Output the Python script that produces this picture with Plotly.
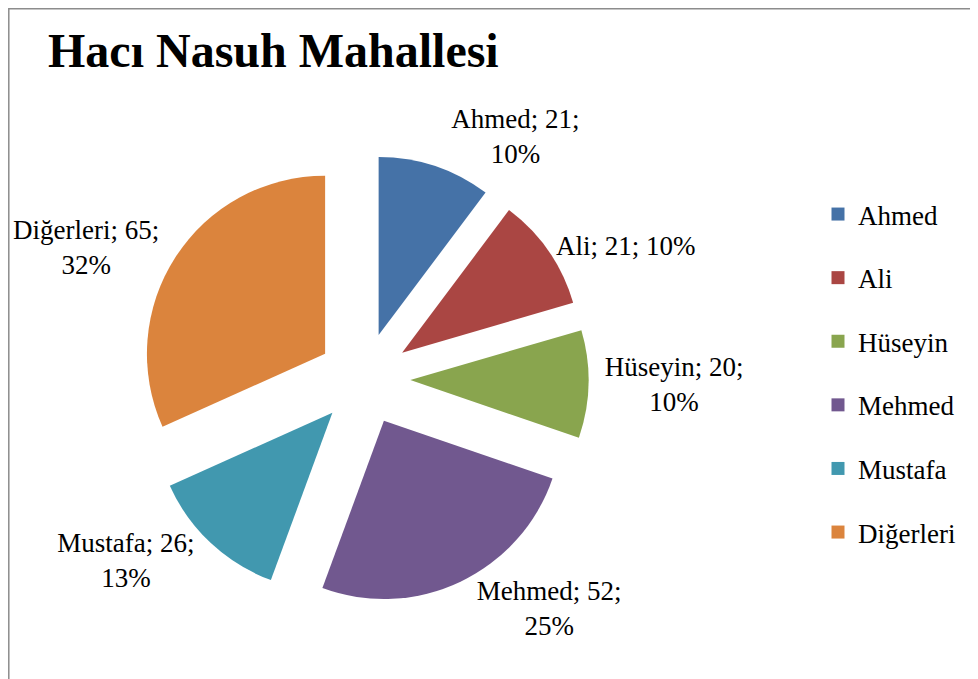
import plotly.graph_objects as go

title = "Hacı Nasuh Mahallesi"
names = ["Ahmed", "Ali", "Hüseyin", "Mehmed", "Mustafa", "Diğerleri"]
values = [21, 21, 20, 52, 26, 65]
colors = ["#4572A7", "#AA4643", "#89A54E", "#71588F", "#4198AF", "#DB843D"]
templates = [
    "%{label}; %{value};<br>%{percent:.0%}",
    "%{label}; %{value}; %{percent:.0%}",
    "%{label}; %{value};<br>%{percent:.0%}",
    "%{label}; %{value};<br>%{percent:.0%}",
    "%{label}; %{value};<br>%{percent:.0%}",
    "%{label}; %{value};<br>%{percent:.0%}",
]

FONT = "Liberation Serif, Times New Roman, serif"
W, H = 978, 679
OFF = 8  # page body margin

def px(x):
    return (x - OFF) / W

def py(y):
    return 1 - (y - OFF) / H

fig = go.Figure()
fig.add_trace(go.Pie(
    labels=names, values=values, sort=False, direction="clockwise", rotation=0,
    marker=dict(colors=colors, line=dict(width=0)),
    pull=[0.26] * len(values),
    texttemplate=templates, textposition="outside",
    textfont=dict(family=FONT, size=27, color="black"),
    outsidetextfont=dict(family=FONT, size=27, color="black"),
    showlegend=False, automargin=False, hoverinfo="label+value+percent",
    domain=dict(x=[px(139.5), px(588.5)], y=[py(603.5), py(154.5)]),
))
for n, c in zip(names, colors):
    fig.add_trace(go.Scatter(
        x=[None], y=[None], mode="markers", name=n, legendgroup=n,
        marker=dict(symbol="square", size=13, color=c),
        showlegend=True, hoverinfo="skip",
    ))

fig.update_layout(
    width=W, height=H,
    margin=dict(l=0, r=0, t=0, b=0),
    paper_bgcolor="white", plot_bgcolor="white",
    font=dict(family=FONT, size=27, color="black"),
    title=dict(text=f"<b>{title}</b>", x=px(48), xanchor="left", xref="container",
               y=py(50), yanchor="middle", yref="container",
               font=dict(family=FONT, size=48, color="black")),
    xaxis=dict(visible=False), yaxis=dict(visible=False),
    legend=dict(x=px(818), xanchor="left", y=py(190), yanchor="top",
                font=dict(family=FONT, size=27, color="black"),
                tracegroupgap=25.5, bgcolor="rgba(0,0,0,0)", itemclick=False),
    shapes=[dict(type="rect", xref="paper", yref="paper",
                 x0=0.8 / W, x1=1.02, y0=-0.05, y1=1 - 0.8 / H,
                 line=dict(color="#8c8c8c", width=1.5), fillcolor="rgba(0,0,0,0)", layer="below")],
)

fig.write_html("out.html")
